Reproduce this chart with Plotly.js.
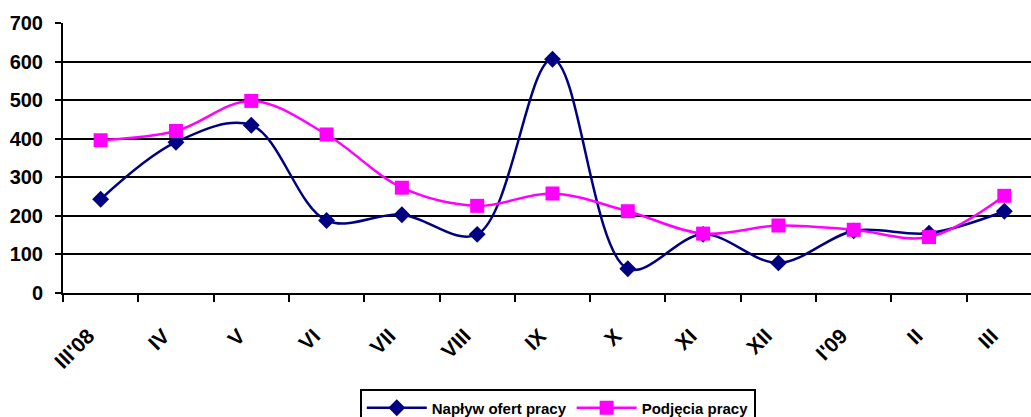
<!DOCTYPE html>
<html>
<head>
<meta charset="utf-8">
<script src="https://cdn.plot.ly/plotly-3.0.1.min.js"></script>
<style>html,body{margin:0;padding:0;background:#fff;}#chart{width:1031px;height:417px;}</style>
</head>
<body>
<div id="chart"></div>
<script>
var categories = ["III'08", "IV", "V", "VI", "VII", "VIII", "IX", "X", "XI", "XII", "I'09", "II", "III"];
var naplyw = [243, 391, 435, 188, 203, 152, 606, 63, 152, 78, 161, 155, 212];
var podjecia = [396, 420, 498, 411, 273, 226, 258, 212, 154, 175, 164, 145, 252];
var yTicks = [0, 100, 200, 300, 400, 500, 600, 700];

var traces = [
  {
    x: categories, y: naplyw, name: 'Napływ ofert pracy', type: 'scatter', mode: 'lines+markers',
    line: {color: '#000080', width: 2.5, shape: 'spline', smoothing: 1},
    marker: {symbol: 'diamond', size: 13, color: '#000080'}
  },
  {
    x: categories, y: podjecia, name: 'Podjęcia pracy', type: 'scatter', mode: 'lines+markers',
    line: {color: '#FF00FF', width: 2.5, shape: 'spline', smoothing: 1},
    marker: {symbol: 'square', size: 14, color: '#FF00FF'}
  }
];

var layout = {
  width: 1031, height: 417,
  margin: {l: 63, r: 0, t: 23, b: 124},
  paper_bgcolor: '#fff', plot_bgcolor: '#fff',
  font: {family: 'Arial, Liberation Sans, sans-serif', color: '#000'},
  showlegend: true,
  legend: {
    orientation: 'h', xref: 'container', yref: 'container',
    x: 0.541, xanchor: 'center', y: 0.066, yanchor: 'top',
    bordercolor: '#000', borderwidth: 2, bgcolor: '#fff',
    font: {size: 15, family: 'Arial, Liberation Sans, sans-serif', weight: 'bold'},
    itemwidth: 60, tracegroupgap: 0
  },
  xaxis: {
    type: 'category', range: [-0.5, 12.354], fixedrange: true,
    tickvals: categories, ticktext: categories.map(function (c) { return c + '\u00a0\u00a0\u00a0'; }),
    showline: true, linecolor: '#000', linewidth: 2,
    ticks: 'outside', tickson: 'boundaries', ticklen: 7, tickwidth: 2, tickcolor: '#000',
    tickangle: -45, showgrid: false, zeroline: false, ticklabelstandoff: 8,
    tickfont: {size: 21, family: 'Arial, Liberation Sans, sans-serif', weight: 'bold'}
  },
  yaxis: {
    range: [0, 700], tickvals: yTicks, ticktext: yTicks.map(String), fixedrange: true,
    showline: true, linecolor: '#000', linewidth: 2,
    ticks: 'outside', ticklen: 6, tickwidth: 2, tickcolor: '#000', ticklabelstandoff: 8,
    showgrid: true, gridcolor: '#000', gridwidth: 2, zeroline: false,
    tickfont: {size: 20, family: 'Arial, Liberation Sans, sans-serif', weight: 'bold'}
  }
};

Plotly.newPlot('chart', traces, layout, {displayModeBar: false, staticPlot: true});
</script>
</body>
</html>
